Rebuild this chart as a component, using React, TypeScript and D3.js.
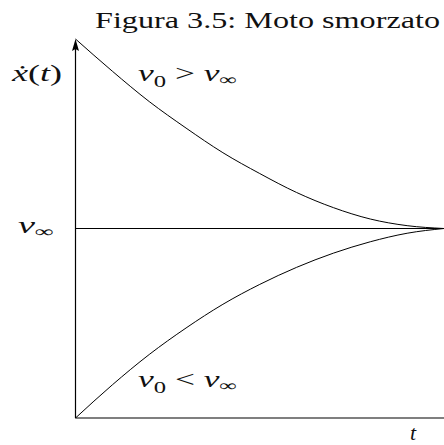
import React from "react";
import * as d3 from "d3";

// Damped motion: velocity approaching its terminal value v∞
const TIME = [0, 1, 2, 3, 4, 5, 6, 7, 8, 9, 10];
const V_FAST_START = [2.0, 1.83, 1.67, 1.53, 1.4, 1.29, 1.19, 1.11, 1.05, 1.015, 1.0];
const V_SLOW_START = [0, 0.175, 0.335, 0.475, 0.6, 0.705, 0.795, 0.87, 0.93, 0.975, 1.0];
const V_INF = 1;

const TITLE = "Figura 3.5: Moto smorzato";

const W = 444;
const H = 445;

export default function App() {
  const x = d3.scaleLinear().domain([0, 10]).range([75.5, 444]);
  const y = d3.scaleLinear().domain([0, 2]).range([418, 39]);

  const line = d3
    .line<number>()
    .x((_, i) => x(TIME[i]))
    .y((v) => y(v))
    .curve(d3.curveMonotoneX);

  const x0 = x(0);
  const yTop = y(2);
  const yBase = y(0);
  const serif = "'Liberation Serif', 'Times New Roman', serif";

  const sub = { fontSize: 16, fontStyle: "normal" as const };

  return (
    <svg
      width={W}
      height={H}
      style={{ position: "absolute", left: 0, top: 0, background: "#fff" }}
      fontFamily={serif}
    >
      <text x={95} y={28} fontSize={22.5} textLength={345} lengthAdjust="spacingAndGlyphs" fill="#111">
        {TITLE}
      </text>

      {/* axes */}
      <line x1={x0} y1={yBase} x2={x0} y2={yTop + 8} stroke="#000" strokeWidth={1.2} />
      <path d={`M${x0},${yTop} L${x0 - 3.5},${yTop + 12} L${x0},${yTop + 10} L${x0 + 3.5},${yTop + 12} Z`} fill="#000" />
      <line x1={x0} y1={yBase} x2={452} y2={yBase} stroke="#000" strokeWidth={1.2} />
      <path d={`M${456},${yBase} L${444},${yBase - 3.5} L${446},${yBase} L${444},${yBase + 3.5} Z`} fill="#000" />

      {/* asymptote */}
      <line x1={x0} y1={y(V_INF)} x2={x(10)} y2={y(V_INF)} stroke="#000" strokeWidth={1.2} />

      {/* curves */}
      <path d={line(V_FAST_START) ?? ""} fill="none" stroke="#000" strokeWidth={1} />
      <path d={line(V_SLOW_START) ?? ""} fill="none" stroke="#000" strokeWidth={1} />

      {/* labels */}
      <text x={12} y={81} fontSize={23} textLength={50} lengthAdjust="spacingAndGlyphs" fill="#111">
        <tspan fontStyle="italic">ẋ</tspan>
        <tspan>(</tspan>
        <tspan fontStyle="italic">t</tspan>
        <tspan>)</tspan>
      </text>

      <text x={138} y={81} fontSize={23} textLength={99} lengthAdjust="spacingAndGlyphs" fill="#111">
        <tspan fontStyle="italic">v</tspan>
        <tspan dy={6} {...sub}>0</tspan>
        <tspan dy={-6}> &gt; </tspan>
        <tspan fontStyle="italic">v</tspan>
        <tspan dy={4} {...sub}>∞</tspan>
      </text>

      <text x={138} y={387} fontSize={23} textLength={99} lengthAdjust="spacingAndGlyphs" fill="#111">
        <tspan fontStyle="italic">v</tspan>
        <tspan dy={6} {...sub}>0</tspan>
        <tspan dy={-6}> &lt; </tspan>
        <tspan fontStyle="italic">v</tspan>
        <tspan dy={4} {...sub}>∞</tspan>
      </text>

      <text x={18} y={233} fontSize={23} textLength={36} lengthAdjust="spacingAndGlyphs" fill="#111">
        <tspan fontStyle="italic">v</tspan>
        <tspan dy={4} {...sub}>∞</tspan>
      </text>

      <text x={410} y={440} fontSize={22} fontStyle="italic" fill="#111">
        t
      </text>
    </svg>
  );
}
